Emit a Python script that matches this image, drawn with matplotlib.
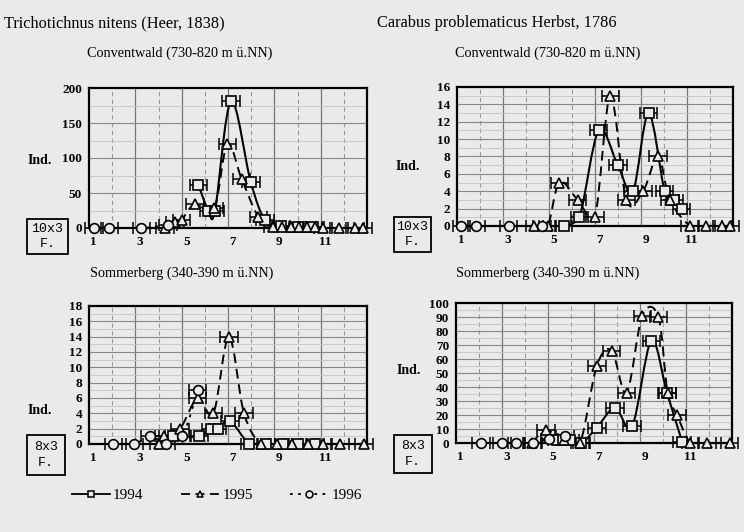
import matplotlib
matplotlib.use("Agg")
import matplotlib.pyplot as plt
from matplotlib.lines import Line2D
from matplotlib.patches import Rectangle, PathPatch
from matplotlib.path import Path

# ---------------- data (x in months, axis 0..12) ----------------
# Trichotichnus nitens, Conventwald
tl_1994_x = [4.72, 5.15, 5.44, 6.13, 6.98, 7.6, 8.3, 9.0, 9.68]
tl_1994_y = [62, 25, 25, 181, 66, 11, 3, 2, 1]
tl_1995_x = [3.28, 3.71, 4.0, 4.57, 5.4, 5.97, 6.59, 7.31, 7.95, 8.35, 8.7, 9.05, 9.4, 9.75, 10.1, 10.8, 11.48, 11.84]
tl_1995_y = [0, 8, 12, 34, 28, 120, 70, 16, 2, 1, 1, 1, 1, 1, 0, 0, 0, 0]
tl_1996_x = [0.22, 0.88, 2.26, 3.42]
tl_1996_y = [0, 0, 0, 4]

# Carabus problematicus, Conventwald
tr_1994_x = [4.64, 5.32, 6.16, 6.99, 7.65, 8.33, 9.03, 9.45, 9.77]
tr_1994_y = [0, 1, 11, 7, 4, 13, 4, 3, 2]
tr_1995_x = [3.36, 3.94, 4.45, 5.25, 5.99, 6.67, 7.36, 8.09, 8.74, 9.26, 10.14, 10.84, 11.52, 11.88]
tr_1995_y = [0, 0, 5, 3, 1, 15, 3, 4, 8, 3, 0, 0, 0, 0]
tr_1996_x = [0.19, 0.84, 2.25, 3.7]
tr_1996_y = [0, 0, 0, 0]

# Trichotichnus nitens, Sommerberg
bl_1994_x = [3.64, 4.75, 5.25, 5.55, 6.09, 6.92, 7.64, 8.39, 9.03, 9.75]
bl_1994_y = [1, 1, 2, 2, 3, 0, 0, 0, 0, 0]
bl_1995_x = [3.0, 3.24, 3.93, 4.69, 5.37, 6.04, 6.69, 7.41, 8.1, 8.75, 9.47, 10.1, 10.83, 11.87]
bl_1995_y = [0, 1, 2, 6, 4, 14, 4, 0, 0, 0, 0, 0, 0, 0]
bl_1996_x = [1.05, 1.96, 2.63, 3.32, 4.03, 4.69]
bl_1996_y = [0, 0, 1, 0, 1, 7]

# Carabus problematicus, Sommerberg
br_1994_x = [4.37, 4.67, 4.96, 5.45, 6.12, 6.91, 7.66, 8.49, 9.17, 9.83]
br_1994_y = [2, 2, 2, 0, 11, 25, 12, 73, 36, 1]
br_1995_x = [3.3, 3.91, 4.7, 5.39, 6.12, 6.77, 7.42, 8.1, 8.8, 9.2, 9.61, 10.19, 10.91, 11.9]
br_1995_y = [0, 9, 2, 0, 55, 66, 36, 91, 90, 36, 20, 0, 0, 0]
br_1996_x = [1.09, 2.0, 2.62, 3.34, 4.06, 4.74]
br_1996_y = [0, 0, 0, 0, 3, 5]

month_labels = ["1", "3", "5", "7", "9", "11"]
years = ["1994", "1995", "1996"]
species = ["Trichotichnus nitens (Heer, 1838)", "Carabus problematicus Herbst, 1786"]
sites = ["Conventwald (730-820 m ü.NN)", "Sommerberg (340-390 m ü.NN)"]
traps = ["10x3\nF.", "8x3\nF."]

BG = "#eaeae8"
SERIF = ["Liberation Serif", "DejaVu Serif"]
MONO = ["Liberation Mono", "DejaVu Sans Mono"]

fig = plt.figure(figsize=(7.44, 5.32), dpi=100, facecolor=BG)
W, H = 744.0, 532.0

def px_axes(x0, y0, x1, y1):
    return fig.add_axes([x0 / W, 1 - y1 / H, (x1 - x0) / W, (y1 - y0) / H])

styles = {
    "1994": dict(ls="-", marker="s", ms=7.2, lw=1.5),
    "1995": dict(ls=(0, (5, 3)), marker="^", ms=6.5, lw=1.4),
    "1996": dict(ls=(0, (1.5, 3)), marker="o", ms=7, lw=1.4),
}

def smooth_path(xs, ys):
    # Excel-like smoothed line: cubic Bezier segments through the data points
    n = len(xs)
    verts = [(xs[0], ys[0])]
    codes = [Path.MOVETO]
    for i in range(n - 1):
        xa = xs[i - 1] if i > 0 else xs[i]
        ya = ys[i - 1] if i > 0 else ys[i]
        xd = xs[i + 2] if i + 2 < n else xs[i + 1]
        yd = ys[i + 2] if i + 2 < n else ys[i + 1]
        c1 = (xs[i] + (xs[i + 1] - xa) / 6.0, max(0.0, ys[i] + (ys[i + 1] - ya) / 6.0))
        c2 = (xs[i + 1] - (xd - xs[i]) / 6.0, max(0.0, ys[i + 1] - (yd - ys[i]) / 6.0))
        verts += [c1, c2, (xs[i + 1], ys[i + 1])]
        codes += [Path.CURVE4] * 3
    return Path(verts, codes)

def panel(ax, series, ymax, ystep, yminor):
    ax.set_facecolor(BG)
    ax.set_xlim(0, 12)
    ax.set_ylim(0, ymax)
    for k in range(1, 12):
        if k % 2 == 0:
            ax.axvline(k, color="#777777", lw=0.9, zorder=1)
        else:
            ax.axvline(k, color="#999999", lw=0.8, ls=(0, (4, 3)), zorder=1)
    yt = list(range(0, ymax + 1, ystep))
    ym = [v for v in range(0, ymax + 1, yminor) if v not in yt]
    for v in yt[1:-1]:
        ax.axhline(v, color="#888888", lw=0.8, zorder=1)
    for v in ym:
        ax.axhline(v, color="#c4c4c4", lw=0.6, zorder=1)
    ax.set_yticks(yt)
    ax.set_yticklabels([str(v) for v in yt], family=SERIF, fontsize=9.5, fontweight="bold")
    ax.set_xticks([0.2, 2.2, 4.2, 6.2, 8.2, 10.2])
    ax.set_xticklabels(month_labels, family=SERIF, fontsize=9.5, fontweight="bold")
    ax.tick_params(length=0, pad=6)
    ax.tick_params(axis="y", pad=5)
    for s in ax.spines.values():
        s.set_linewidth(1.6)
        s.set_color("black")
        s.set_zorder(3)
    for yr, (xs, ys) in zip(years, series):
        st = styles[yr]
        ax.errorbar(xs, ys, xerr=0.38, fmt="none", ecolor="black", elinewidth=1.1,
                    capsize=4, capthick=1.1, clip_on=False, zorder=4)
        ax.add_patch(PathPatch(smooth_path(xs, ys), fill=False, ec="black",
                               ls=st["ls"], lw=st["lw"], zorder=4.5))
        ax.plot(xs, ys, ls="none", marker=st["marker"], ms=st["ms"], mfc=BG,
                mec="black", mew=1.2, clip_on=False, zorder=5)

ax_tl = px_axes(89, 88, 367, 228)
ax_tr = px_axes(457, 87, 733, 226)
ax_bl = px_axes(89, 306, 367, 444)
ax_br = px_axes(456, 303, 732, 443)

panel(ax_tl, [(tl_1994_x, tl_1994_y), (tl_1995_x, tl_1995_y), (tl_1996_x, tl_1996_y)], 200, 50, 25)
panel(ax_tr, [(tr_1994_x, tr_1994_y), (tr_1995_x, tr_1995_y), (tr_1996_x, tr_1996_y)], 16, 2, 1)
panel(ax_bl, [(bl_1994_x, bl_1994_y), (bl_1995_x, bl_1995_y), (bl_1996_x, bl_1996_y)], 18, 2, 1)
panel(ax_br, [(br_1994_x, br_1994_y), (br_1995_x, br_1995_y), (br_1996_x, br_1996_y)], 100, 10, 5)

def ftext(x, y, s, **kw):
    fig.text(x / W, 1 - y / H, s, **kw)

ftext(4, 23, species[0], family=SERIF, fontsize=11.8, ha="left", va="center")
ftext(377, 23, species[1], family=SERIF, fontsize=11.8, ha="left", va="center")
ftext(180, 53, sites[0], family=SERIF, fontsize=10.3, ha="center", va="center")
ftext(548, 53, sites[0], family=SERIF, fontsize=10.3, ha="center", va="center")
ftext(182, 273, sites[1], family=SERIF, fontsize=10.3, ha="center", va="center")
ftext(548, 273, sites[1], family=SERIF, fontsize=10.3, ha="center", va="center")
for (x, y) in [(40, 160), (408, 166), (40, 410), (409, 371)]:
    ftext(x, y, "Ind.", family=SERIF, fontsize=10, fontweight="bold", ha="center", va="center")

for (x0, y0, x1, y1), t in zip([(27, 219, 68, 254), (394, 217, 431, 252),
                                (27, 435, 65, 475), (394, 435, 432, 473)],
                               [traps[0], traps[0], traps[1], traps[1]]):
    fig.add_artist(Rectangle((x0 / W, 1 - y1 / H), (x1 - x0) / W, (y1 - y0) / H,
                             transform=fig.transFigure, fill=False, ec="black", lw=1.3))
    ftext((x0 + x1) / 2, (y0 + y1) / 2, t, family=MONO, fontsize=9.5, ha="center",
          va="center", linespacing=1.35)

handles = []
for yr in years:
    st = styles[yr]
    handles.append(Line2D([], [], color="black", ls=st["ls"], lw=1.3, marker=st["marker"],
                          ms=5, mfc=BG, mec="black", mew=1.1))
fig.legend(handles, years, loc="center left", bbox_to_anchor=(58 / W, 1 - 495 / H),
           ncol=3, frameon=False, handlelength=2.5, handletextpad=0.2, columnspacing=2.45,
           prop={"family": SERIF, "size": 11})

fig.savefig("out.png", dpi=100, facecolor=BG)
